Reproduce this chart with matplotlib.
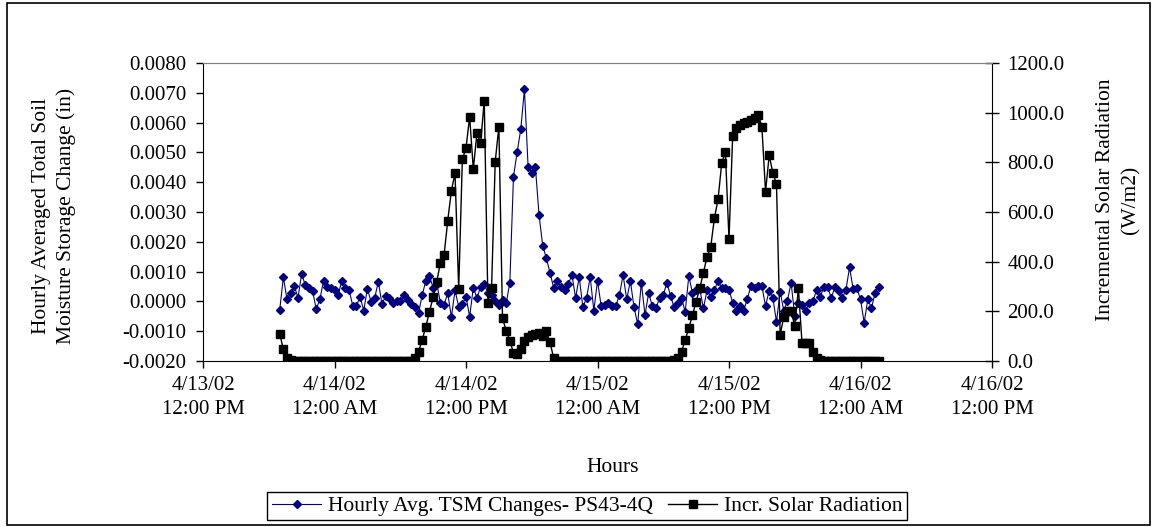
import matplotlib
matplotlib.use('Agg')
import matplotlib.pyplot as plt
import pandas as pd
from matplotlib.patches import Rectangle
from matplotlib.ticker import FormatStrFormatter

plt.rcParams['font.family'] = ['Liberation Serif', 'DejaVu Serif']

# 20 minute readings, 4/13/02 7:00 PM onwards
times = pd.date_range('2002-04-13 19:00', periods=165, freq='20min')

# hourly averaged total soil moisture storage change (in)
tsm_change = [
    -0.00029, 0.00081, 0.00007, 0.00027, 0.00052, 0.00012, 0.00092, 0.00055,
    0.00046, 0.00035, -0.00026, 0.00007, 0.00069, 0.00048, 0.00046, 0.00039,
    0.00022, 0.00069, 0.00044, 0.00039, -0.00015, -0.00015, 0.00016, -0.00031,
    0.00043, -0.00001, 0.00012, 0.00066, -0.00009, 0.00018, 0.00012, -0.00007,
    0.00002, 0.00002, 0.00021, 0.00004, -0.00009, -0.00020, -0.00040, 0.00021,
    0.00069, 0.00085, 0.00046, 0.00059, -0.00004, -0.00011, 0.00028, -0.00053,
    0.00037, -0.00018, -0.00009, 0.00016, -0.00051, 0.00046, 0.00012, 0.00049,
    0.00059, 0.00028, 0.00021, 0.00002, -0.00011, 0.00004, -0.00007, 0.00063,
    0.00419, 0.00501,
    0.00578, 0.00712, 0.00452, 0.00430, 0.00450, 0.00290, 0.00187, 0.00145,
    0.00095, 0.00046, 0.00069, 0.00049, 0.00039, 0.00058, 0.00089, 0.00012,
    0.00081, -0.00020, 0.00012, 0.00081, -0.00031, 0.00069, -0.00015, -0.00011,
    -0.00007, -0.00015, -0.00015, 0.00021, 0.00089, 0.00007, 0.00069, -0.00020,
    -0.00076, 0.00063,
    -0.00046, 0.00028, -0.00015, -0.00023, 0.00012, 0.00021, 0.00063, 0.00018,
    -0.00020, -0.00007, 0.00012, -0.00035, 0.00085, 0.00028, 0.00038, 0.00041,
    -0.00023, 0.00038, 0.00016, 0.00038, 0.00069, 0.00044, 0.00044, 0.00039,
    -0.00004, -0.00031, -0.00015, -0.00031, 0.00007, 0.00052, 0.00044, 0.00052,
    0.00052,
    -0.00015, 0.00036, 0.00012, -0.00068, 0.00033, -0.00031, 0.00002, 0.00063,
    -0.00049, -0.00004, -0.00011, -0.00031, -0.00004, 0.00002, 0.00038, 0.00016,
    0.00049, 0.00047, 0.00012, 0.00047, 0.00036, 0.00012, 0.00038, 0.00114,
    0.00041, 0.00044, 0.00007, -0.00071, 0.00007, -0.00023, 0.00029, 0.00049,
]

# incremental solar radiation (W/m2)
solar_rad = [
    110, 47, 12, 3, 0, 0, 0, 0, 0, 0, 0, 0, 0, 0, 0, 0, 0, 0, 0, 0,
    0, 0, 0, 0, 0, 0, 0, 0, 0, 0, 0, 0, 0, 0, 0, 0,
    2, 12, 37, 85, 138, 199, 256, 320, 396, 427, 565, 686, 756, 289, 812, 857,
    984, 772, 919, 877, 1048, 235, 293, 803, 944, 172, 122, 82, 32, 28, 50, 82,
    98, 106, 110, 112, 100, 120, 75, 12, 2,
    0, 0, 0, 0, 0, 0, 0, 0, 0, 0, 0, 0, 0, 0, 0, 0, 0, 0, 0, 0,
    0, 0, 0, 0, 0, 0, 0, 0, 0, 0,
    1, 4, 14, 37, 85, 132, 185, 239, 293, 356, 420, 460, 575, 651, 796, 843,
    490, 906, 937, 950, 960, 964, 971, 977, 991, 944, 682, 828, 758, 713, 105, 178,
    202, 202, 141, 293, 71, 71, 74, 37, 11, 3,
    0, 0, 0, 0, 0, 0, 0, 0, 0, 0, 0, 0, 0, 0, 0, 0,
]

tick_times = pd.date_range('2002-04-13 12:00', periods=7, freq='12h')
tick_labels = ['4/13/02\n12:00 PM', '4/14/02\n12:00 AM', '4/14/02\n12:00 PM',
               '4/15/02\n12:00 AM', '4/15/02\n12:00 PM', '4/16/02\n12:00 AM',
               '4/16/02\n12:00 PM']
left_ticks = [-0.002, -0.001, 0.0, 0.001, 0.002, 0.003, 0.004, 0.005, 0.006, 0.007, 0.008]
right_ticks = [0, 200, 400, 600, 800, 1000, 1200]

W, H = 1155, 527
fig = plt.figure(figsize=(W / 100, H / 100), dpi=100)
fig.patches.append(Rectangle((7 / W, 2 / H), 1143 / W, 522 / H, transform=fig.transFigure,
                             fill=False, edgecolor='black', lw=1.2))

ax = fig.add_axes([203 / W, 1 - 361 / H, 789 / W, 298 / H])
ax2 = ax.twinx()

ax.plot(times, tsm_change, color='#000080', lw=0.8, marker='D', ms=4.2,
        label='Hourly Avg. TSM Changes- PS43-4Q')
ax2.plot(times, solar_rad, color='black', lw=1.0, marker='s', ms=5.4,
         label='Incr. Solar Radiation')

ax.set_xlim(tick_times[0], tick_times[-1])
ax.set_xticks(tick_times)
ax.set_xticklabels(tick_labels, fontsize=15, linespacing=1.35)
ax.set_ylim(-0.002, 0.008)
ax.set_yticks(left_ticks)
ax.yaxis.set_major_formatter(FormatStrFormatter('%.4f'))
ax.tick_params(axis='y', direction='out', length=5, width=1, pad=7, labelsize=15)
ax.tick_params(axis='x', direction='out', length=5, width=1, pad=6)

ax2.set_ylim(0, 1200)
ax2.set_yticks(right_ticks)
ax2.yaxis.set_major_formatter(FormatStrFormatter('%.1f'))
ax2.tick_params(axis='y', direction='inout', length=10, width=1, pad=6, labelsize=15)

for a in (ax, ax2):
    a.spines['top'].set_color('#808080')
ax.spines['right'].set_visible(False)
ax2.spines['left'].set_visible(False)
ax2.spines['bottom'].set_visible(False)

ax.set_ylabel('Hourly Averaged Total Soil\nMoisture Storage Change (in)', fontsize=15.5,
              linespacing=1.35, va='center', ha='center')
ax.yaxis.set_label_coords((54 - 203) / 789, (361 - 216) / 298)
ax2.set_ylabel('Incremental Solar Radiation\n(W/m2)', fontsize=15.5, linespacing=1.45,
               va='center', ha='center')
ax2.yaxis.set_label_coords((1118 - 203) / 789, (361 - 200) / 298)
ax.set_xlabel('Hours', fontsize=15.5, va='center')
ax.xaxis.set_label_coords((613 - 203) / 789, (361 - 467) / 298)

handles = ax.get_lines() + ax2.get_lines()
fig.legend(handles, [h.get_label() for h in handles], loc='center', ncol=2,
           bbox_to_anchor=(587 / W, 1 - 506 / H), fontsize=15.5, frameon=True,
           fancybox=False, edgecolor='black', framealpha=1, borderpad=0.2,
           borderaxespad=0, handlelength=2.3, handletextpad=0.3, columnspacing=0.7)

fig.savefig('out.png', dpi=100)
